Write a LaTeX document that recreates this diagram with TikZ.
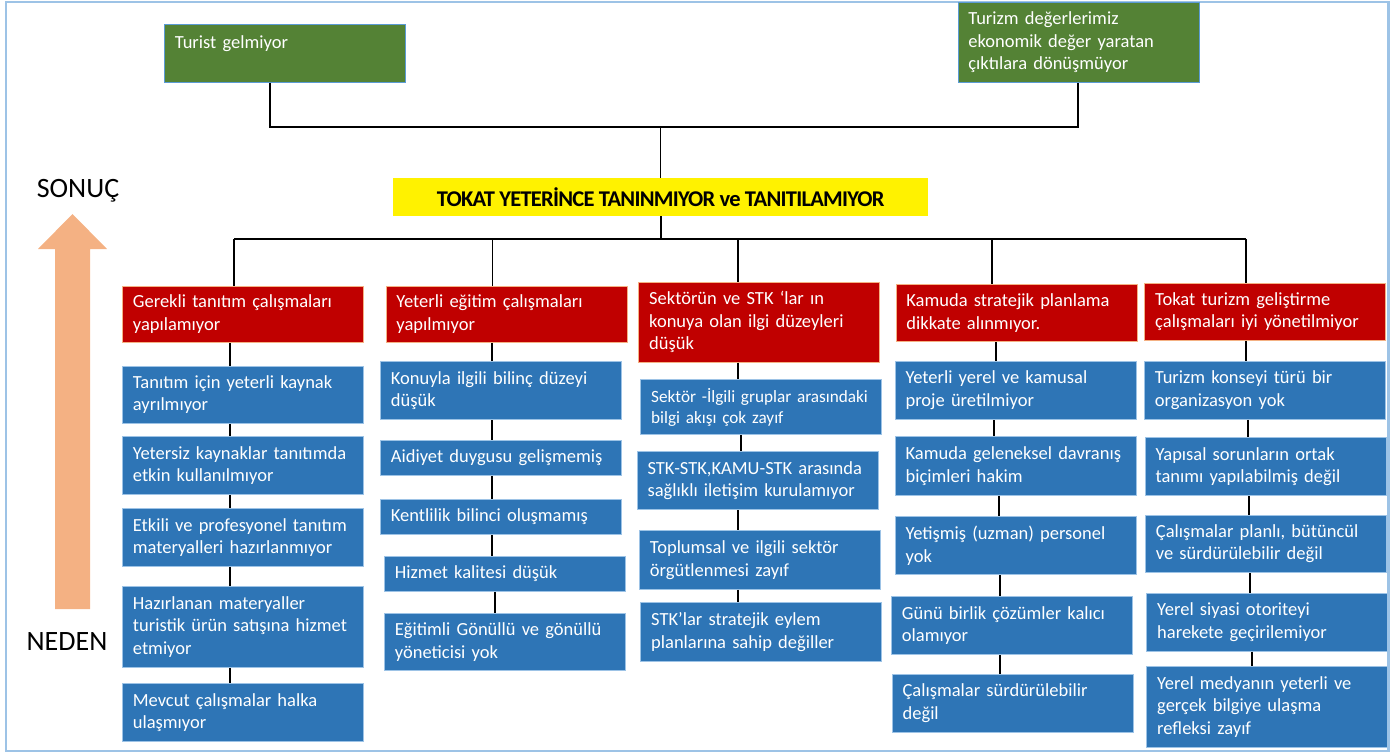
\documentclass[tikz,border=0pt]{standalone}
\usepackage{fontspec}
\setmainfont{Carlito}
\newfontfamily\titlefont[LetterSpace=-3.3]{Carlito}
\definecolor{boxblue}{HTML}{2E75B6}
\definecolor{boxblueedge}{HTML}{9DC3E6}
\definecolor{boxred}{HTML}{C00000}
\definecolor{boxrededge}{HTML}{F4B183}
\definecolor{boxgreen}{HTML}{548235}
\definecolor{boxgreenedge}{HTML}{5B9BD5}
\definecolor{arrowpeach}{HTML}{F4B183}
\definecolor{frameblue}{HTML}{9DC3E6}

\begin{document}
\begin{tikzpicture}[x=1pt,y=-1pt,
  cell/.style={anchor=north west, inner xsep=10.5pt, inner ysep=0pt, text width=220pt,
    minimum width=241pt, align=left, text=white,
    font=\fontsize{18.5}{22.5}\selectfont, line width=0.8pt},
  bluecell/.style={cell, fill=boxblue, draw=boxblueedge},
  redcell/.style={cell, fill=boxred, draw=boxrededge},
  greencell/.style={cell, fill=boxgreen, draw=boxgreenedge},
  conn/.style={draw=black, line width=1.8pt},
  sidelabel/.style={font=\fontsize{28}{32}\selectfont, inner sep=0pt}
]
\useasboundingbox (0,0) rectangle (1394,753);
\draw[frameblue, line width=2.5pt] (6,2) rectangle (1388.5,751);

% cause -> effect arrow with its labels
\fill[arrowpeach] (55,609) -- (55,249) -- (38,249) -- (72.5,214) -- (107,249)
  -- (90,249) -- (90,609) -- cycle;
\node[sidelabel] (sonuc) at (78,191) {SONUÇ};
\node[sidelabel] (neden) at (67,642) {NEDEN};

% effects
\node[greencell, minimum width=240.5pt, minimum height=57.7pt] (g1) at (164,24)
  {Turist gelmiyor\\\mbox{}};
\node[greencell, minimum width=239.5pt, minimum height=79.7pt] (g2) at (957.5,2.3)
  {Turizm değerlerimiz\\ekonomik değer yaratan\\çıktılara dönüşmüyor};

% core problem
\node[fill=yellow, anchor=north west, minimum width=535pt, minimum height=38pt,
  inner sep=0pt, font=\titlefont\bfseries\fontsize{22.5}{26}\selectfont] (title) at (393,178)
  {TOKAT YETERİNCE TANINMIYOR ve TANITILAMIYOR};

% main causes
\node[redcell, minimum height=56.3pt] (r1) at (122,285.7)
  {Gerekli tanıtım çalışmaları\\yapılamıyor};
\node[redcell, minimum height=56.3pt] (r2) at (385.5,285.7)
  {Yeterli eğitim çalışmaları\\yapılmıyor};
\node[redcell, minimum height=80pt] (r3) at (638.3,281.7)
  {Sektörün ve STK ‘lar ın\\konuya olan ilgi düzeyleri\\düşük};
\node[redcell, minimum height=57pt] (r4) at (895.5,284)
  {Kamuda stratejik planlama\\dikkate alınmıyor.};
\node[redcell, minimum height=57.3pt] (r5) at (1144.3,282.7)
  {Tokat turizm geliştirme\\çalışmaları iyi yönetilmiyor};

% column 1
\node[bluecell, minimum height=57.3pt] (a1) at (122,365.7)
  {Tanıtım için yeterli kaynak\\ayrılmıyor};
\node[bluecell, minimum height=58pt] (a2) at (122,436)
  {Yetersiz kaynaklar tanıtımda\\etkin kullanılmıyor};
\node[bluecell, minimum height=58pt] (a3) at (122,508)
  {Etkili ve profesyonel tanıtım\\materyalleri hazırlanmıyor};
\node[bluecell, minimum height=81pt] (a4) at (122,586)
  {Hazırlanan materyaller\\turistik ürün satışına hizmet\\etmiyor};
\node[bluecell, minimum height=58pt] (a5) at (122,683)
  {Mevcut çalışmalar halka\\ulaşmıyor};

% column 2
\node[bluecell, minimum height=58.6pt] (b1) at (380,360.7)
  {Konuyla ilgili bilinç düzeyi\\düşük};
\node[bluecell, minimum height=34.7pt] (b2) at (380,440.3)
  {Aidiyet duygusu gelişmemiş};
\node[bluecell, minimum height=35.3pt] (b3) at (380,499)
  {Kentlilik bilinci oluşmamış};
\node[bluecell, minimum height=35pt] (b4) at (384,556)
  {Hizmet kalitesi düşük};
\node[bluecell, minimum height=57pt] (b5) at (384,613)
  {Eğitimli Gönüllü ve gönüllü\\yöneticisi yok};

% column 3
\node[bluecell, minimum height=55pt, font=\fontsize{17.2}{21}\selectfont] (c1) at (640.3,379.3)
  {Sektör -İlgili gruplar arasındaki\\bilgi akışı çok zayıf};
\node[bluecell, minimum height=58.3pt] (c2) at (636.7,451)
  {STK-STK,KAMU-STK arasında\\sağlıklı iletişim kurulamıyor};
\node[bluecell, minimum height=58.7pt] (c3) at (639,530.3)
  {Toplumsal ve ilgili sektör\\örgütlenmesi zayıf};
\node[bluecell, minimum height=58.7pt] (c4) at (640.3,602.3)
  {STK’lar stratejik eylem\\planlarına sahip değiller};

% column 4
\node[bluecell, minimum height=58.6pt] (e1) at (894.7,360.7)
  {Yeterli yerel ve kamusal\\proje üretilmiyor};
\node[bluecell, minimum height=58.4pt] (e2) at (894.7,436.3)
  {Kamuda geleneksel davranış\\biçimleri hakim};
\node[bluecell, minimum height=58pt] (e3) at (894.7,516.3)
  {Yetişmiş (uzman) personel\\yok};
\node[bluecell, minimum height=58pt] (e4) at (891,596.3)
  {Günü birlik çözümler kalıcı\\olamıyor};
\node[bluecell, minimum height=58.3pt] (e5) at (891.7,673.7)
  {Çalışmalar sürdürülebilir\\değil};

% column 5
\node[bluecell, minimum height=58.3pt] (f1) at (1144,360.7)
  {Turizm konseyi türü bir\\organizasyon yok};
\node[bluecell, minimum height=58.3pt] (f2) at (1144.7,437)
  {Yapısal sorunların ortak\\tanımı yapılabilmiş değil};
\node[bluecell, minimum height=57.6pt] (f3) at (1145,514.7)
  {Çalışmalar planlı, bütüncül\\ve sürdürülebilir değil};
\node[bluecell, minimum height=57.7pt] (f4) at (1146.3,593)
  {Yerel siyasi otoriteyi\\harekete geçirilemiyor};
\node[bluecell, minimum height=80.7pt] (f5) at (1146.3,666)
  {Yerel medyanın yeterli ve\\gerçek bilgiye ulaşma\\refleksi zayıf};

% effects joined to the core problem
\coordinate (jt) at (660.5,127);
\draw[conn] (270,0 |- g1.south) |- (jt) -| (1078,0 |- g2.south);
\draw[conn] (jt) -- (jt |- title.north);

% core problem split into the five main causes
\coordinate (jb) at (661,239.3);
\coordinate (d1) at (234,239.3);
\coordinate (d2) at (492.5,239.3);
\coordinate (d3) at (737.7,239.3);
\coordinate (d4) at (992,239.3);
\coordinate (d5) at (1246,239.3);
\draw[conn] (jb |- title.south) -- (jb);
\draw[conn] (d1) -- (d5);
\foreach \d/\r in {d1/r1, d2/r2, d3/r3, d4/r4, d5/r5}
  \draw[conn] (\d) -- (\d |- \r.north);

% chains of sub-causes under each main cause
\foreach \a/\b/\x in {r1/a1/230.3, a1/a2/230.3, a2/a3/229.7, a3/a4/229.7, a4/a5/229.7,
    r2/b1/492, b1/b2/492, b2/b3/491.7, b3/b4/492, b4/b5/495,
    r3/c1/737.7, c1/c2/741, c2/c3/738, c3/c4/738.3,
    r4/e1/995.7, e1/e2/994.3, e2/e3/999, e3/e4/999.7, e4/e5/999.7,
    r5/f1/1246, f1/f2/1247.7, f2/f3/1249, f3/f4/1250.3, f4/f5/1252}
  \draw[conn] (\x,0 |- \a.south) -- (\x,0 |- \b.north);
\end{tikzpicture}
\end{document}
